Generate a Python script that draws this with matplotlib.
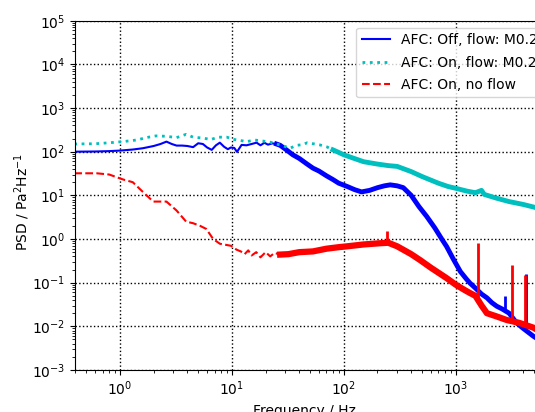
import matplotlib.pyplot as plt
import numpy as np

# AFC off, flow M0.2 (blue)
f_off = [0.39, 0.6, 0.8, 1.0, 1.3, 1.6, 2.0, 2.3, 2.6, 2.9, 3.2, 3.6, 4.0, 4.5, 5.0,
         5.5, 6.0, 6.6, 7.2, 7.8, 8.5, 9.2, 9.8, 10.5, 11.1, 12.2, 13.5, 15, 16.6, 18,
         19.5, 21, 23, 25, 27, 30, 35, 40, 47, 53, 60, 70, 80, 90, 107, 125, 144, 170,
         200, 230, 260, 300, 340, 400, 470, 550, 650, 750, 830, 950, 1100, 1250, 1340,
         1500, 1700, 1900, 2100, 2320, 2600, 3000, 3500, 4000, 4960, 5500, 6000, 7000]
p_off = [100, 101, 103, 106, 112, 120, 135, 150, 170, 150, 138, 138, 135, 127, 156,
         150, 125, 110, 140, 161, 130, 114, 125, 122, 99, 143, 140, 150, 161, 140,
         160, 145, 155, 150, 140, 115, 85, 70, 52, 42, 36, 28, 23, 19, 16, 13.5, 12, 13,
         15, 16.5, 17.4, 16.5, 15, 10, 5.5, 3.3, 1.8, 1.0, 0.67, 0.35, 0.18, 0.12, 0.098,
         0.075, 0.055, 0.045, 0.035, 0.029, 0.025, 0.02, 0.012, 0.009, 0.0059, 0.005, 0.004, 0.0035]
spike_f_off = [2750, 4250]
spike_lo_off = [0.025, 0.008]
spike_hi_off = [0.05, 0.16]

# AFC on, flow M0.2 (cyan)
f_on = [0.39, 0.6, 0.8, 1.06, 1.4, 1.8, 2.1, 2.6, 3.2, 3.9, 4.5, 5.5, 6.5, 7.5, 9.0,
        10.5, 12, 13.5, 16, 19, 22, 25, 29, 33, 38, 43, 47, 55, 61, 70, 80, 87, 100,
        120, 150, 200, 250, 300, 400, 500, 590, 700, 850, 1000, 1260, 1500, 1700, 1800,
        2320, 3000, 4000, 4960, 6000, 7000]
p_on = [150, 152, 160, 170, 185, 215, 230, 225, 210, 250, 215, 205, 190, 215, 215,
        190, 180, 170, 185, 175, 165, 150, 135, 120, 140, 145, 160, 150, 143, 130, 110, 100, 85,
        72, 59, 52, 48, 46, 35, 27, 22.7, 19, 16, 14.5, 12.5, 11.5, 13, 10.5,
        8.6, 7.2, 6.2, 5.4, 4.8, 4.4]

# AFC on, no flow (red)
f_nf = [0.39, 0.62, 0.8, 1.07, 1.3, 1.6, 1.98, 2.6, 3.2, 3.9, 4.5, 5.2, 5.9, 6.8, 7.8,
        9.8, 11, 12, 13, 14, 15, 16.5, 18, 20, 22, 24, 27, 32, 40, 53, 70, 90, 107, 150,
        210, 250, 300, 400, 480, 600, 830, 1000, 1200, 1340, 1500, 1700, 1900, 2300,
        2850, 3700, 4960, 6000, 7000]
p_nf = [32, 32, 30, 23, 20, 12, 7.2, 7.2, 4.5, 2.5, 2.3, 2.0, 1.7, 1.0, 0.78,
        0.70, 0.57, 0.52, 0.45, 0.55, 0.42, 0.5, 0.38, 0.5, 0.4, 0.48, 0.44, 0.45, 0.5, 0.52,
        0.6, 0.65, 0.68, 0.75, 0.8, 0.82, 0.68, 0.45, 0.33, 0.22, 0.127, 0.09, 0.068,
        0.058, 0.05, 0.03, 0.02, 0.017, 0.014, 0.012, 0.0093, 0.007, 0.006]
spike_f_nf = [245, 1570, 3200, 4200]
spike_lo_nf = [0.8, 0.045, 0.014, 0.011]
spike_hi_nf = [1.5, 0.8, 0.26, 0.15]

fig = plt.figure(figsize=(5.35, 4.12), dpi=100)
ax = fig.add_axes([75/535, 42/412, 475/535, 349.3/412])

f_off, p_off = np.array(f_off), np.array(p_off)
f_on, p_on = np.array(f_on), np.array(p_on)
f_nf, p_nf = np.array(f_nf), np.array(p_nf)

l1, = ax.loglog(f_off, p_off, 'b-', lw=1.5, label='AFC: Off, flow: M0.2')
m = f_off >= 25
ax.loglog(f_off[m], p_off[m], 'b-', lw=3.5, solid_joinstyle='round')
ax.vlines(spike_f_off, spike_lo_off, spike_hi_off, colors='b', lw=2)

l2, = ax.loglog(f_on, p_on, 'c:', lw=2, label='AFC: On, flow: M0.2')
m = f_on >= 80
ax.loglog(f_on[m], p_on[m], 'c-', lw=3.5, solid_joinstyle='round')

l3, = ax.loglog(f_nf, p_nf, 'r--', lw=1.5, label='AFC: On, no flow')
m = f_nf >= 27
ax.loglog(f_nf[m], p_nf[m], 'r-', lw=4.5, solid_joinstyle='round')
ax.vlines(spike_f_nf, spike_lo_nf, spike_hi_nf, colors='r', lw=2)

ax.set_xlim(0.396, 6960)
ax.set_ylim(1e-3, 1e5)
ax.grid(True, which='major', color='k', linestyle=':', linewidth=1)
ax.set_xlabel('Frequency / Hz')
ax.xaxis.set_label_coords((304 - 75) / 475, -0.097)
ax.set_ylabel('PSD / Pa$^2$Hz$^{-1}$')
ax.yaxis.set_label_coords(-0.09, 0.48)

ax.legend(handles=[l1, l2, l3], loc='upper right', labelspacing=0.6)

fig.savefig('out.png', dpi=100)
